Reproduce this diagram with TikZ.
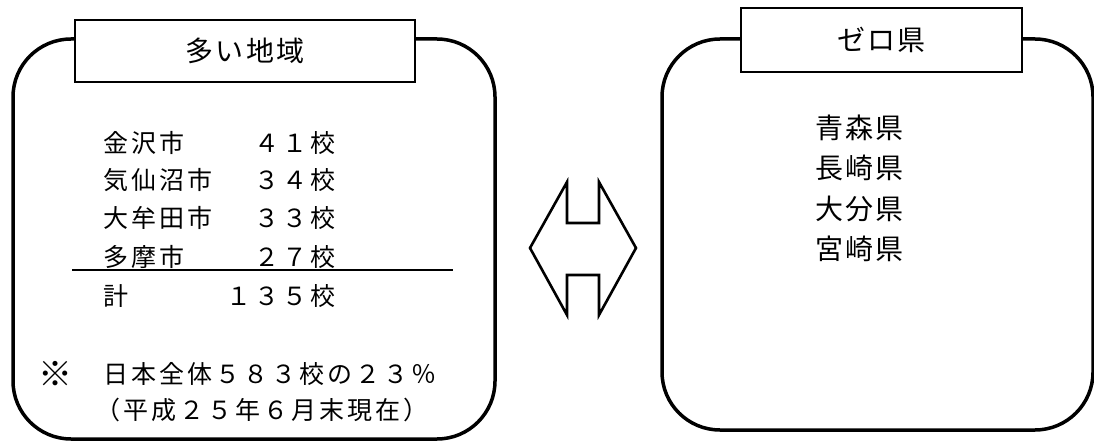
\documentclass[tikz,border=0pt]{standalone}
\usepackage{fontspec}
\setmainfont{Noto Sans CJK JP}
\newfontfamily\listfont[LetterSpace=12]{Noto Sans CJK JP}
\newfontfamily\bigfont[LetterSpace=8]{Noto Sans CJK JP}
\tikzset{
  outerbox/.style={line width=3.5pt, rounded corners=58pt},
  titlebox/.style={draw, line width=1.4pt, fill=white, inner sep=0pt, font=\bigfont\fontsize{28}{32}\selectfont},
  listtxt/.style={inner sep=0pt, font=\listfont\fontsize{25}{30}\selectfont},
  marktxt/.style={inner sep=0pt, font=\listfont\fontsize{34}{38}\selectfont},
  bigtxt/.style={inner sep=0pt, font=\bigfont\fontsize{28}{32}\selectfont},
  arrowshape/.style={line width=2.6pt, line join=miter},
  rule/.style={line width=1.5pt}
}
\begin{document}
\begin{tikzpicture}[x=1pt,y=-1pt]
\useasboundingbox (0,0) rectangle (1094,443);
% outer rounded frames
\draw[outerbox] (13,39) rectangle (495,439);
\draw[outerbox] (662,39) rectangle (1093,430);
% title boxes
\node[titlebox, minimum width=340pt, minimum height=62pt] (tl) at (245,51) {多い地域};
\node[titlebox, minimum width=281pt, minimum height=64pt] (tr) at (881.5,40) {ゼロ県};
% left list
\node[listtxt, anchor=west] (n1) at (103,143) {金沢市};
\node[listtxt, anchor=west] (n2) at (103,180) {気仙沼市};
\node[listtxt, anchor=west] (n3) at (103,218) {大牟田市};
\node[listtxt, anchor=west] (n4) at (103,257) {多摩市};
\node[listtxt, anchor=west] (n5) at (103,296) {計};
\node[listtxt, anchor=east] (v1) at (336,143) {４１校};
\node[listtxt, anchor=east] (v2) at (336,180) {３４校};
\node[listtxt, anchor=east] (v3) at (336,218) {３３校};
\node[listtxt, anchor=east] (v4) at (336,257) {２７校};
\node[listtxt, anchor=east] (v5) at (336,296) {１３５校};
\coordinate (ua) at (72,270);
\coordinate (ub) at (453,270);
\draw[rule] (ua) -- (ub);
\node[marktxt] (mark) at (55,374) {※};
\node[listtxt, anchor=west] (note1) at (103,374) {日本全体５８３校の２３％};
\node[listtxt, anchor=west] (note2) at (95,410) {（平成２５年６月末現在）};
% right list
\node[bigtxt, anchor=west] (p1) at (815,128) {青森県};
\node[bigtxt, anchor=west] (p2) at (815,168) {長崎県};
\node[bigtxt, anchor=west] (p3) at (815,209) {大分県};
\node[bigtxt, anchor=west] (p4) at (815,249) {宮崎県};
% double arrow
\draw[arrowshape] (530,248) -- (567,182) -- (567,223) -- (599,223) -- (599,182)
  -- (636,248) -- (599,315) -- (599,275) -- (567,275) -- (567,315) -- cycle;
\end{tikzpicture}
\end{document}
